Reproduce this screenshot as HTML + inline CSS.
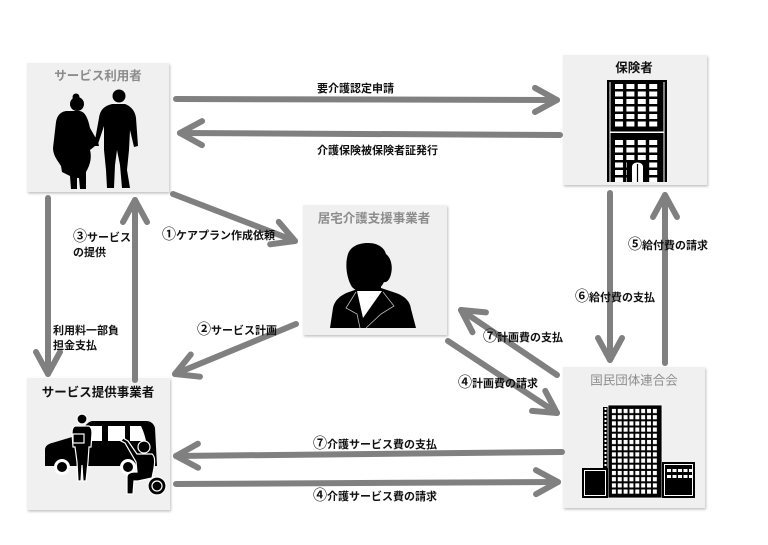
<!DOCTYPE html>
<html><head><meta charset="utf-8">
<style>
html,body{margin:0;padding:0;background:#fff;}
svg{display:block;}
text{font-family:"Liberation Sans","Noto Sans CJK JP",sans-serif;}
.lb{font-size:11px;font-weight:bold;fill:#111;}
.n{font-family:"Noto Sans CJK JP",sans-serif;font-size:14px;}
.t{font-size:12.5px;font-weight:bold;text-anchor:middle;}
</style></head><body>
<svg width="768" height="545" viewBox="0 0 768 545" xmlns="http://www.w3.org/2000/svg">
<defs>
<marker id="ah" markerUnits="userSpaceOnUse" viewBox="-30 -18 36 36" markerWidth="36" markerHeight="36" refX="0" refY="0" orient="auto">
<path d="M-22,-12 L0,0 L-22,12" fill="none" stroke="#808080" stroke-width="6" stroke-linecap="round" stroke-linejoin="round"/>
</marker>
<filter id="sh" x="-5%" y="-5%" width="115%" height="115%"><feDropShadow dx="1" dy="1.5" stdDeviation="1.2" flood-color="#000" flood-opacity="0.25"/></filter>
<pattern id="win" x="611" y="408" width="5.85" height="6.2" patternUnits="userSpaceOnUse"><rect x="0.9" y="0.9" width="4" height="4.2" fill="#fff"/></pattern>
<pattern id="w1" x="615" y="84" width="11.4" height="7.5" patternUnits="userSpaceOnUse"><rect x="0" y="0" width="8" height="5" fill="#fff"/></pattern>
<pattern id="w2" x="615" y="140" width="11.4" height="7.5" patternUnits="userSpaceOnUse"><rect x="0" y="0" width="8" height="5" fill="#fff"/></pattern>
<pattern id="dots" x="603" y="407" width="5" height="4" patternUnits="userSpaceOnUse"><rect x="1.5" y="1" width="2" height="2" fill="#fff"/></pattern>
</defs>

<!-- boxes -->
<g fill="#f0f0f0" filter="url(#sh)">
<rect x="27" y="63" width="142" height="129"/>
<rect x="563" y="55" width="144" height="130"/>
<rect x="303" y="205" width="144" height="130"/>
<rect x="27" y="378" width="143" height="132"/>
<rect x="563" y="367" width="142" height="141"/>
</g>

<!-- titles -->
<text class="t" x="98" y="80" fill="#8c8c8c">サービス利用者</text>
<text class="t" x="634" y="72" fill="#111">保険者</text>
<text class="t" x="374" y="222.5" fill="#8c8c8c">居宅介護支援事業者</text>
<text class="t" x="98" y="396.5" fill="#111">サービス提供事業者</text>
<text class="t" x="634" y="384.5" fill="#8c8c8c" style="font-weight:normal">国民団体連合会</text>

<!-- arrows -->
<g stroke="#808080" stroke-width="6" stroke-linecap="round" fill="none">
<line x1="176" y1="99" x2="557" y2="100" marker-end="url(#ah)"/>
<line x1="560" y1="135" x2="180" y2="133" marker-end="url(#ah)"/>
<line x1="48" y1="198" x2="48" y2="374" marker-end="url(#ah)"/>
<line x1="135" y1="380" x2="135" y2="200" marker-end="url(#ah)"/>
<line x1="173" y1="194" x2="295" y2="241" marker-end="url(#ah)"/>
<line x1="296" y1="324" x2="175" y2="374" marker-end="url(#ah)"/>
<line x1="557" y1="375" x2="461" y2="310" marker-end="url(#ah)"/>
<line x1="448" y1="341" x2="557" y2="413" marker-end="url(#ah)"/>
<line x1="610" y1="193" x2="610" y2="360" marker-end="url(#ah)"/>
<line x1="665" y1="363" x2="665" y2="195" marker-end="url(#ah)"/>
<line x1="562" y1="452" x2="176" y2="456" marker-end="url(#ah)"/>
<line x1="176" y1="484" x2="558" y2="482" marker-end="url(#ah)"/>
</g>

<!-- labels -->
<text class="lb" x="317" y="92">要介護認定申請</text>
<text class="lb" x="317" y="154">介護保険被保険者証発行</text>
<text class="lb" x="73" y="241"><tspan class="n">③</tspan>サービス</text>
<text class="lb" x="73" y="256">の提供</text>
<text class="lb" x="53" y="334">利用料一部負</text>
<text class="lb" x="53" y="349">担金支払</text>
<text class="lb" x="162" y="239"><tspan class="n">①</tspan>ケアプラン作成依頼</text>
<text class="lb" x="197" y="334"><tspan class="n">②</tspan>サービス計画</text>
<text class="lb" x="483" y="341"><tspan class="n">⑦</tspan>計画費の支払</text>
<text class="lb" x="458" y="387"><tspan class="n">④</tspan>計画費の請求</text>
<text class="lb" x="628" y="249"><tspan class="n">⑤</tspan>給付費の請求</text>
<text class="lb" x="575" y="301"><tspan class="n">⑥</tspan>給付費の支払</text>
<text class="lb" x="313" y="448"><tspan class="n">⑦</tspan>介護サービス費の支払</text>
<text class="lb" x="313" y="500"><tspan class="n">④</tspan>介護サービス費の請求</text>

<!-- couple -->
<g fill="#000">
<circle cx="77" cy="104" r="7"/>
<circle cx="76" cy="97" r="3.5"/>
<path d="M66,111 C60,112 57,116 56,122 L53,148 C53,155 57,160 61,166 L62,172 L70,176 L71,189 L77,189 L77,178 L79,178 L80,189 L86,189 L86,172 C90,165 92,158 90,150 L95,146 L99,146 L98,142 L90,128 C88,118 85,112 80,111 Z"/>
<circle cx="119" cy="96" r="6.5"/>
<path d="M112,104 C104,106 100,110 99,118 L95,140 L98,144 L104,126 L104,150 L106,170 L107,188 L114,188 L115,165 L117,150 L120,165 L122,188 L130,188 L127,170 L129,150 L130,130 L134,147 L138,146 L136,118 C135,110 130,106 125,104 Z"/>
</g>

<!-- insurer building -->
<g>
<rect x="607" y="80" width="60" height="102" fill="#000"/>
<line x1="610" y1="82" x2="610" y2="182" stroke="#fff" stroke-width="1"/>
<line x1="664" y1="82" x2="664" y2="182" stroke="#fff" stroke-width="1"/>
<rect x="610" y="131.5" width="54" height="1.5" fill="#fff"/>
<rect x="615" y="84" width="44" height="43" fill="url(#w1)"/>
<rect x="615" y="140" width="44" height="42" fill="url(#w2)"/>
<rect x="627" y="160" width="21" height="22" fill="#000"/>
<path d="M632,182 L632,167 C632,161 643,161 643,167 L643,182 Z" fill="#fff"/>
<line x1="637.5" y1="164" x2="637.5" y2="182" stroke="#000" stroke-width="1.2"/>
</g>

<!-- care manager person -->
<g>
<path d="M330,328 L333,308 C335,299 342,294 352,291 L360,288 L360,283 L381,283 L381,288 L393,292 C403,295 410,300 411,309 L416,328 Z" fill="#000"/>
<path d="M352,287 C346,277 345,263 348,254 C351,246 359,243 368,243 C377,243 384,247 386,254 C391,258 393,266 391,274 C390,279 387,283 384,282 C381,288 376,293 368,293 C360,293 355,290 352,287 Z" fill="#000"/>
<polygon points="357,291 382,291 363,318" fill="#fff"/>
<polyline points="356,292 346,308 357,314 360,328" fill="none" stroke="#bbb" stroke-width="0.8"/>
<polyline points="383,292 394,306 381,314 366,328" fill="none" stroke="#bbb" stroke-width="0.8"/>
</g>

<!-- van scene -->
<g>
<path d="M45,466 L45,450 C45,446 48,444 52,443 L72,437 L88,423 C89,422 91,421 93,421 L146,421 C151,421 154,424 155,428 L157,466 Z" fill="#000"/>
<rect x="90" y="426" width="12" height="15" fill="#fff"/>
<rect x="108" y="426" width="17" height="15" fill="#fff"/>
<path d="M130,426 L141,426 C143,430 145,436 146,441 L130,441 Z" fill="#fff"/>
<circle cx="62" cy="467" r="8" fill="#fff"/>
<circle cx="62" cy="467" r="5" fill="#000"/>
<circle cx="128" cy="467" r="8" fill="#fff"/>
<circle cx="128" cy="467" r="5" fill="#000"/>
<g fill="#000" stroke="#fff" stroke-width="1.2">
<circle cx="82" cy="419" r="5"/>
<path d="M75,426 L89,426 C91,427 92,430 92,433 L91,447 L89,447 L88,462 L86,481 L83,481 L82,465 L81,481 L78,481 L77,462 L75,447 L73,447 L72,433 C72,429 73,427 75,426 Z"/>
<rect x="73" y="434" width="11" height="9"/>
<circle cx="157" cy="486" r="9"/>
<circle cx="157" cy="486" r="5" fill="none"/>
<circle cx="144" cy="447" r="6"/>
<path d="M137,454 L152,454 C155,456 155,462 154,468 L152,478 L138,481 L134,481 L133,494 L127,494 L127,477 C127,474 130,472 134,472 L137,472 L136,462 L125,443 L121,441 L123,438 L128,441 Z"/>
</g>
</g>

<!-- federation buildings -->
<g>
<rect x="603" y="407" width="5" height="62" fill="#000"/>
<rect x="603" y="407" width="5" height="62" fill="url(#dots)"/>
<rect x="608" y="405" width="54" height="93" fill="#000" stroke="#fff" stroke-width="0.8"/>
<rect x="611" y="408" width="47" height="87" fill="url(#win)"/>
<rect x="582" y="468" width="26" height="30" fill="#000"/>
<rect x="584.5" y="470.5" width="21" height="25" fill="none" stroke="#fff" stroke-width="1"/>
<rect x="662" y="462" width="33" height="36" fill="#000"/>
<rect x="664.5" y="464.5" width="28" height="31" fill="none" stroke="#fff" stroke-width="1"/>
<g fill="#fff">
<rect x="667" y="469" width="4" height="3"/><rect x="672.5" y="469" width="4" height="3"/><rect x="678" y="469" width="4" height="3"/><rect x="683.5" y="469" width="4" height="3"/><rect x="689" y="469" width="3" height="3"/>
<rect x="667" y="475" width="4" height="3"/><rect x="672.5" y="475" width="4" height="3"/><rect x="678" y="475" width="4" height="3"/><rect x="683.5" y="475" width="4" height="3"/><rect x="689" y="475" width="3" height="3"/>
</g>
</g>
</svg>
</body></html>
